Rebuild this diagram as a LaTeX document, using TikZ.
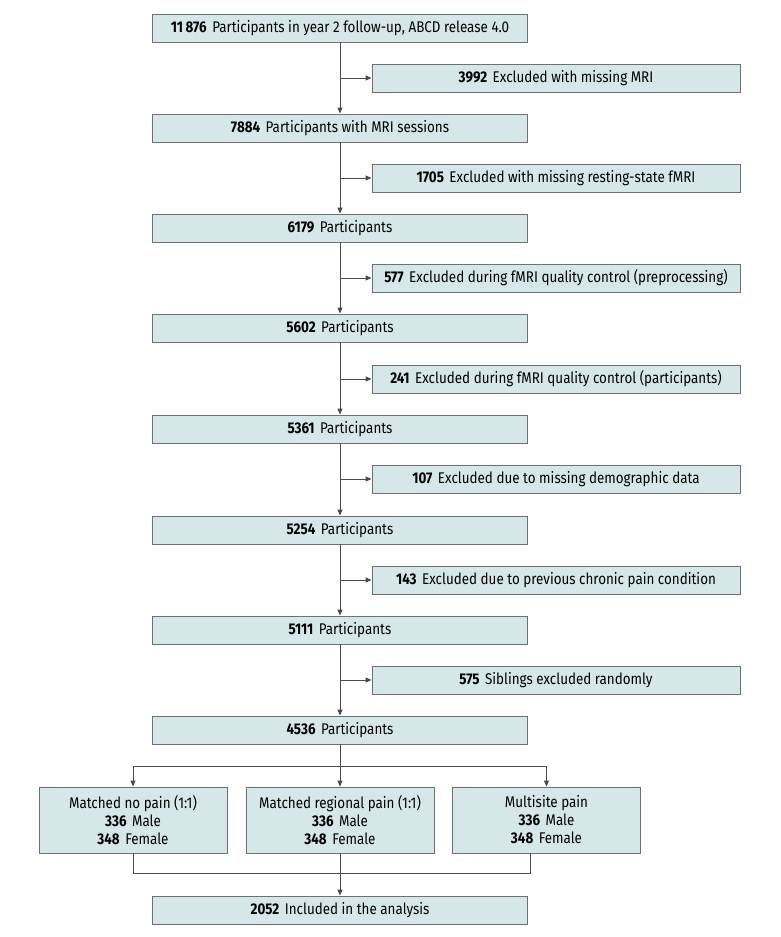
\documentclass[tikz,border=0pt]{standalone}
\usepackage{fontspec}
\setmainfont{Fira Sans}[FakeStretch=0.865]
\usepackage{tikz}
\usetikzlibrary{arrows.meta,calc}
\definecolor{BoxFill}{HTML}{D5E7E8}
\definecolor{BoxLine}{HTML}{707070}
\definecolor{ArrowLine}{HTML}{4A4A4A}
\newcommand{\num}[1]{\textbf{#1}\hspace{5.5pt}}

\begin{document}
\begin{tikzpicture}[
        x=1pt, y=-1pt,
        font=\fontsize{15.5}{18}\selectfont,
        mainbox/.style={
            draw=BoxLine,
            fill=BoxFill,
            line width=0.9pt,
            minimum width=375pt,
            minimum height=28pt,
            inner sep=0pt,
            align=center
        },
        exclbox/.style={mainbox, minimum width=368pt},
        groupbox/.style={mainbox, minimum width=188pt, minimum height=66pt},
        arrow/.style={-{Triangle[length=6pt,width=5pt]}, line width=0.9pt, draw=ArrowLine},
        line/.style={line width=0.9pt, draw=ArrowLine}
    ]
        \useasboundingbox (0,0) rectangle (780,937);

        % main flow
        \node[mainbox] (all) at (340,28) {\num{11\,876}Participants in year 2 follow-up, ABCD release 4.0};
        \node[mainbox] (mri) at (340,128) {\num{7884}Participants with MRI sessions};
        \node[mainbox] (rest) at (340,228) {\num{6179}Participants};
        \node[mainbox] (prep) at (340,328) {\num{5602}Participants};
        \node[mainbox] (qc) at (340,429) {\num{5361}Participants};
        \node[mainbox] (demo) at (340,530) {\num{5254}Participants};
        \node[mainbox] (pain) at (340,630) {\num{5111}Participants};
        \node[mainbox] (sib) at (340,730) {\num{4536}Participants};

        % exclusions
        \node[exclbox] (exmri) at (556,78) {\num{3992}Excluded with missing MRI};
        \node[exclbox] (exrest) at (556,178) {\num{1705}Excluded with missing resting-state fMRI};
        \node[exclbox] (exprep) at (556,278) {\num{577}Excluded during fMRI quality control (preprocessing)};
        \node[exclbox] (exqc) at (556,379) {\num{241}Excluded during fMRI quality control (participants)};
        \node[exclbox] (exdemo) at (556,479) {\num{107}Excluded due to missing demographic data};
        \node[exclbox] (expain) at (556,580) {\num{143}Excluded due to previous chronic pain condition};
        \node[exclbox] (exsib) at (556,680) {\num{575}Siblings excluded randomly};

        % groups
        \node[groupbox] (nopain) at (133,820) {Matched no pain (1:1)\\\num{336}Male\\\num{348}Female};
        \node[groupbox] (regional) at (340,820) {Matched regional pain (1:1)\\\num{336}Male\\\num{348}Female};
        \node[groupbox] (multi) at (546.5,820) {Multisite pain\\\num{336}Male\\\num{348}Female};
        \node[mainbox] (final) at (340,910) {\num{2052}Included in the analysis};

        \draw[arrow] (all) -- (mri);
        \draw[arrow] (mri) -- (rest);
        \draw[arrow] (rest) -- (prep);
        \draw[arrow] (prep) -- (qc);
        \draw[arrow] (qc) -- (demo);
        \draw[arrow] (demo) -- (pain);
        \draw[arrow] (pain) -- (sib);
        \foreach \ex in {exmri,exrest,exprep,exqc,exdemo,expain,exsib}
            \draw[arrow] (\ex.west -| all.south) -- (\ex.west);

        \coordinate (split) at ($(sib.south)+(0,22)$);
        \draw[arrow] (sib.south) -- (regional.north);
        \draw[arrow] (split -| regional.north) -| (nopain.north);
        \draw[arrow] (split -| regional.north) -| (multi.north);

        \coordinate (merge) at ($(final.north)+(0,-22)$);
        \coordinate (multiout) at ($(multi.south)+(-16,0)$);
        \draw[line] (nopain.south) |- (merge -| multiout) -- (multiout);
        \draw[arrow] (regional.south) -- (final.north);
    \end{tikzpicture}
\end{document}
